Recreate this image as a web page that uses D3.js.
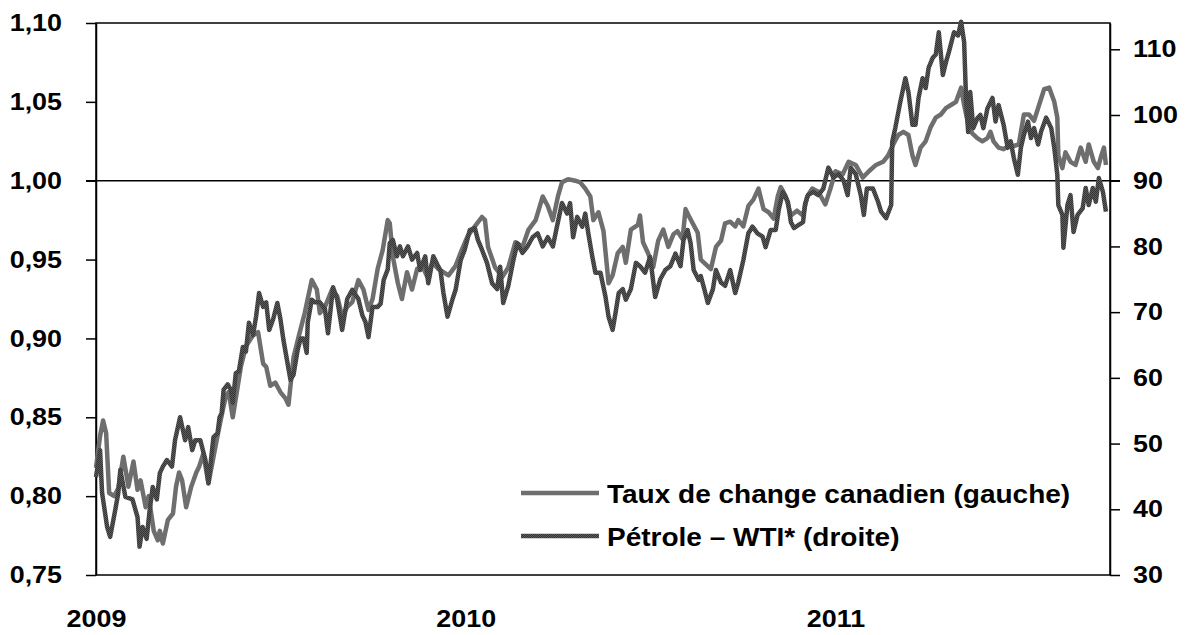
<!DOCTYPE html>
<html>
<head>
<meta charset="utf-8">
<script src="https://cdn.jsdelivr.net/npm/d3@7"></script>
<style>
  html, body { margin: 0; padding: 0; background: #fff; }
  svg { display: block; font-family: "Liberation Sans", Arial, sans-serif; font-weight: bold; }
</style>
</head>
<body>
<svg id="chart" width="1187" height="635"></svg>
<script>
// days since 2009-01-01, value
const startDate = new Date(2009, 0, 1);
const endDate = new Date(2011, 8, 29);

const cadSeries = [
  [0, 0.818], [4, 0.838], [7, 0.848], [10, 0.840], [13, 0.802], [18, 0.800], [22, 0.805], [27, 0.825],
  [32, 0.806], [37, 0.822], [41, 0.804], [44, 0.810], [49, 0.793], [52, 0.800], [57, 0.778], [61, 0.772],
  [63, 0.778], [66, 0.770], [71, 0.785], [76, 0.789], [79, 0.806], [82, 0.815], [85, 0.810], [89, 0.793],
  [94, 0.806], [99, 0.815], [102, 0.819], [106, 0.827], [111, 0.808], [116, 0.825], [119, 0.835], [123, 0.848],
  [128, 0.863], [131, 0.866], [135, 0.850], [138, 0.862], [143, 0.882], [148, 0.895], [155, 0.902], [160, 0.904],
  [165, 0.884], [168, 0.882], [172, 0.870], [177, 0.872], [182, 0.866], [187, 0.862], [190, 0.858], [195, 0.888],
  [200, 0.901], [206, 0.916], [213, 0.937], [218, 0.931], [221, 0.916], [226, 0.920], [233, 0.931], [238, 0.927],
  [243, 0.914], [248, 0.920], [253, 0.923], [259, 0.937], [264, 0.931], [269, 0.918], [273, 0.925], [278, 0.944],
  [283, 0.956], [288, 0.975], [290, 0.973], [293, 0.952], [298, 0.935], [302, 0.925], [307, 0.942], [312, 0.931],
  [317, 0.944], [322, 0.946], [327, 0.939], [332, 0.948], [338, 0.944], [348, 0.940], [355, 0.946], [361, 0.956],
  [367, 0.965], [374, 0.971], [381, 0.977], [384, 0.975], [387, 0.958], [394, 0.945], [401, 0.939], [407, 0.945],
  [414, 0.961], [421, 0.958], [427, 0.969], [434, 0.975], [441, 0.990], [446, 0.984], [451, 0.975], [456, 0.990],
  [460, 0.999], [466, 1.001], [473, 1.000], [478, 0.999], [483, 0.995], [488, 0.990], [491, 0.975], [496, 0.980],
  [501, 0.968], [506, 0.935], [510, 0.940], [515, 0.954], [520, 0.958], [523, 0.948], [528, 0.969], [535, 0.972],
  [537, 0.978], [540, 0.961], [545, 0.954], [550, 0.945], [555, 0.962], [560, 0.969], [565, 0.958], [570, 0.966],
  [574, 0.968], [579, 0.963], [582, 0.982], [585, 0.978], [589, 0.973], [594, 0.967], [597, 0.950], [602, 0.947],
  [607, 0.944], [612, 0.958], [617, 0.962], [621, 0.973], [626, 0.974], [631, 0.971], [634, 0.975], [639, 0.971],
  [644, 0.984], [649, 0.988], [654, 0.995], [659, 0.982], [664, 0.980], [669, 0.976], [673, 0.990], [676, 0.996],
  [681, 0.990], [686, 0.978], [692, 0.981], [698, 0.978], [702, 0.990], [707, 0.995], [713, 0.993], [720, 0.985],
  [725, 0.995], [730, 1.006], [737, 1.004], [743, 1.012], [750, 1.010], [757, 1.002], [763, 1.006], [770, 1.010],
  [777, 1.012], [782, 1.016], [787, 1.023], [792, 1.029], [797, 1.031], [802, 1.029], [806, 1.016], [809, 1.010],
  [814, 1.021], [819, 1.025], [824, 1.034], [829, 1.040], [834, 1.042], [839, 1.046], [844, 1.048], [849, 1.050],
  [854, 1.059], [857, 1.048], [861, 1.036], [865, 1.030], [870, 1.027], [875, 1.025], [880, 1.027], [883, 1.031],
  [886, 1.025], [891, 1.021], [896, 1.020], [901, 1.022], [906, 1.022], [911, 1.023], [916, 1.042], [921, 1.042],
  [926, 1.038], [931, 1.048], [936, 1.058], [941, 1.059], [946, 1.050], [949, 1.040], [950, 1.016], [954, 1.008],
  [957, 1.018], [962, 1.012], [967, 1.010], [972, 1.021], [977, 1.012], [980, 1.023], [985, 1.012], [989, 1.008],
  [992, 1.015], [995, 1.021], [997, 1.010]
];

const oilSeries = [
  [0, 44.9], [4, 49.0], [6, 42.5], [11, 37.3], [14, 35.8], [19, 39.9], [22, 42.5], [24, 46.0], [29, 41.9],
  [36, 41.5], [41, 38.8], [43, 34.3], [46, 37.3], [50, 35.5], [53, 39.9], [56, 43.4], [60, 41.5], [63, 45.5],
  [66, 46.5], [70, 47.5], [75, 46.5], [78, 50.5], [83, 54.0], [88, 50.5], [91, 52.5], [95, 49.0], [98, 50.5],
  [103, 50.5], [108, 47.5], [111, 44.0], [116, 51.0], [120, 51.6], [122, 54.0], [124, 54.6], [126, 58.2],
  [130, 59.0], [133, 58.2], [135, 56.2], [138, 60.7], [141, 61.0], [145, 64.7], [148, 64.0], [151, 68.4],
  [155, 66.5], [158, 69.3], [161, 72.9], [165, 70.8], [168, 71.5], [171, 67.3], [175, 69.0], [179, 71.4],
  [182, 69.0], [185, 65.8], [189, 62.3], [192, 59.7], [195, 60.5], [199, 64.2], [202, 66.0], [205, 66.0],
  [208, 63.8], [209, 68.4], [213, 71.9], [216, 71.5], [221, 71.5], [226, 70.5], [229, 66.8], [234, 73.8],
  [238, 72.0], [243, 67.3], [248, 72.0], [253, 73.4], [259, 72.0], [263, 69.5], [266, 68.5], [269, 66.2],
  [273, 70.8], [278, 70.8], [281, 71.3], [284, 74.9], [288, 76.5], [290, 80.5], [293, 81.0], [297, 78.5],
  [300, 80.0], [303, 78.5], [308, 80.0], [312, 78.0], [317, 79.0], [320, 76.4], [325, 78.5], [328, 74.4],
  [333, 78.5], [338, 76.9], [340, 76.4], [343, 72.9], [347, 69.3], [352, 72.0], [355, 73.4], [360, 77.9],
  [364, 79.5], [369, 82.5], [374, 82.8], [377, 81.0], [381, 79.5], [386, 77.5], [391, 74.4], [396, 73.5],
  [399, 76.9], [402, 71.4], [407, 74.0], [412, 77.9], [416, 80.5], [421, 79.0], [426, 80.0], [431, 81.4],
  [436, 82.0], [441, 80.0], [446, 81.4], [451, 80.0], [455, 83.0], [460, 86.6], [465, 85.0], [468, 86.6],
  [471, 81.4], [475, 84.5], [480, 83.0], [483, 85.0], [486, 82.0], [490, 78.4], [493, 76.0], [498, 76.0],
  [503, 72.3], [506, 69.3], [510, 67.3], [513, 70.0], [516, 72.9], [520, 73.5], [523, 71.9], [528, 73.5],
  [533, 77.5], [537, 77.0], [542, 76.0], [547, 78.4], [552, 72.3], [557, 75.0], [562, 76.4], [567, 77.0],
  [572, 78.9], [577, 77.0], [580, 81.0], [584, 82.5], [587, 80.5], [590, 76.4], [595, 74.9], [597, 75.5],
  [600, 73.8], [604, 71.4], [609, 73.5], [612, 76.4], [617, 74.5], [621, 74.0], [626, 76.4], [631, 72.9],
  [634, 74.5], [639, 77.9], [644, 82.0], [648, 83.0], [653, 82.0], [658, 81.5], [661, 79.9], [666, 82.5],
  [671, 82.5], [674, 85.6], [678, 88.3], [683, 86.8], [686, 83.7], [689, 82.8], [693, 83.2], [698, 83.7],
  [700, 86.5], [703, 87.8], [708, 88.3], [713, 87.8], [718, 88.8], [723, 92.0], [728, 90.5], [733, 91.0],
  [738, 90.0], [742, 87.8], [745, 92.0], [750, 91.0], [755, 87.8], [758, 84.8], [761, 88.8], [767, 88.8],
  [772, 86.8], [775, 85.3], [780, 84.3], [785, 86.3], [786, 95.9], [789, 98.0], [794, 102.0], [799, 105.6],
  [802, 103.5], [806, 98.5], [809, 98.5], [812, 102.6], [816, 105.6], [819, 104.1], [822, 107.2], [826, 108.7],
  [829, 109.2], [832, 112.6], [836, 106.1], [839, 108.0], [842, 109.6], [847, 112.6], [851, 112.1], [854, 114.2],
  [857, 111.1], [859, 102.0], [861, 97.4], [863, 103.5], [866, 98.0], [870, 99.5], [873, 100.0], [876, 98.0],
  [880, 101.0], [885, 102.6], [888, 99.0], [891, 101.5], [896, 98.5], [900, 95.0], [903, 96.0], [906, 93.5],
  [910, 90.9], [913, 95.0], [916, 97.0], [920, 99.0], [923, 96.5], [926, 98.0], [930, 95.5], [933, 97.5],
  [938, 99.6], [943, 98.0], [946, 95.0], [949, 90.9], [950, 86.3], [954, 84.8], [955, 79.8], [959, 86.3],
  [962, 87.8], [965, 82.2], [969, 84.8], [974, 85.8], [977, 88.9], [980, 86.3], [984, 88.9], [987, 86.8],
  [990, 90.4], [994, 88.3], [997, 85.3]
];

const leftTicks = [0.75, 0.80, 0.85, 0.90, 0.95, 1.00, 1.05, 1.10];
const rightTicks = [30, 40, 50, 60, 70, 80, 90, 100, 110];
const yearTicks = ['2009', '2010', '2011'];
const legendLabels = ['Taux de change canadien (gauche)', 'Pétrole – WTI* (droite)'];

const width = 1187, height = 635;
const margin = { left: 96, right: 77, top: 23, bottom: 60 };
const stretch = 1.12;
const lineWidth = 4.5;

const svg = d3.select('#chart');

const x = d3.scaleTime()
  .domain([startDate, endDate])
  .range([margin.left, width - margin.right]);

const yLeft = d3.scaleLinear()
  .domain([0.75, 1.10])
  .range([height - margin.bottom, margin.top]);

// 0,75 <-> 30 and 1,00 <-> 90 on the right axis
const yRight = d3.scaleLinear()
  .domain([30, 30 + (1.10 - 0.75) * 240])
  .range([height - margin.bottom, margin.top]);

const toDate = d => d3.timeDay.offset(startDate, d);

const widen = sel => sel.each(function () {
  const len = this.getComputedTextLength();
  d3.select(this).attr('textLength', len * stretch).attr('lengthAdjust', 'spacingAndGlyphs');
});

const defs = svg.append('defs');
const pat = defs.append('pattern')
  .attr('id', 'oilTexture')
  .attr('patternUnits', 'userSpaceOnUse')
  .attr('width', 2)
  .attr('height', 2);
pat.append('rect').attr('width', 2).attr('height', 2).attr('fill', '#5c5c5c');
pat.append('rect').attr('width', 1).attr('height', 1).attr('fill', '#333333');
pat.append('rect').attr('x', 1).attr('y', 1).attr('width', 1).attr('height', 1).attr('fill', '#333333');

// axes
const leftAxis = svg.append('g')
  .attr('transform', `translate(${margin.left},0)`)
  .call(d3.axisLeft(yLeft)
    .tickValues(leftTicks)
    .tickSize(10)
    .tickSizeOuter(0)
    .tickPadding(24)
    .tickFormat(d => d3.format('.2f')(d).replace('.', ',')));

const rightAxis = svg.append('g')
  .attr('transform', `translate(${width - margin.right},0)`)
  .call(d3.axisRight(yRight)
    .tickValues(rightTicks)
    .tickSize(10)
    .tickSizeOuter(0)
    .tickPadding(13));

const bottomAxis = svg.append('g')
  .attr('transform', `translate(0,${height - margin.bottom})`)
  .call(d3.axisBottom(x)
    .tickValues(yearTicks.map(y => new Date(+y, 0, 1)))
    .tickSize(0)
    .tickPadding(35)
    .tickFormat(d3.timeFormat('%Y')));
bottomAxis.select('.domain').remove();

[leftAxis, rightAxis, bottomAxis].forEach(g => {
  g.selectAll('text')
    .attr('font-family', '"Liberation Sans", Arial, sans-serif')
    .attr('font-weight', 'bold')
    .attr('font-size', 24)
    .attr('fill', '#000');
  g.selectAll('line').attr('stroke', '#000').attr('stroke-width', 1.5);
  g.selectAll('.domain').attr('stroke', '#000').attr('stroke-width', 1.5);
  g.selectAll('text').call(widen);
});

// plot frame
svg.append('rect')
  .attr('x', margin.left)
  .attr('y', margin.top)
  .attr('width', width - margin.left - margin.right)
  .attr('height', height - margin.top - margin.bottom)
  .attr('fill', 'none')
  .attr('stroke', '#000')
  .attr('stroke-width', 1.5);

// parity line at 1,00
svg.append('line')
  .attr('x1', margin.left - 10)
  .attr('x2', width - margin.right + 10)
  .attr('y1', yLeft(1.00))
  .attr('y2', yLeft(1.00))
  .attr('stroke', '#000')
  .attr('stroke-width', 1.5);

// series
svg.append('path')
  .datum(cadSeries)
  .attr('fill', 'none')
  .attr('stroke', '#6e6e6e')
  .attr('stroke-width', lineWidth)
  .attr('stroke-linejoin', 'round')
  .attr('d', d3.line().x(d => x(toDate(d[0]))).y(d => yLeft(d[1])));

svg.append('path')
  .datum(oilSeries)
  .attr('fill', 'none')
  .attr('stroke', 'url(#oilTexture)')
  .attr('stroke-width', lineWidth)
  .attr('stroke-linejoin', 'round')
  .attr('d', d3.line().x(d => x(toDate(d[0]))).y(d => yRight(d[1])));

// legend
const legend = svg.append('g').attr('transform', 'translate(521,493)');
const legendStrokes = ['#6e6e6e', 'url(#oilTexture)'];
legendLabels.forEach((label, i) => {
  const row = legend.append('g').attr('transform', `translate(0,${i * 43})`);
  row.append('line')
    .attr('x1', 0).attr('x2', 78)
    .attr('y1', 0).attr('y2', 0)
    .attr('stroke', legendStrokes[i])
    .attr('stroke-width', lineWidth);
  row.append('text')
    .attr('x', 86)
    .attr('y', 10)
    .attr('font-size', 25)
    .attr('fill', '#000')
    .text(label)
    .call(widen);
});
</script>
</body>
</html>
